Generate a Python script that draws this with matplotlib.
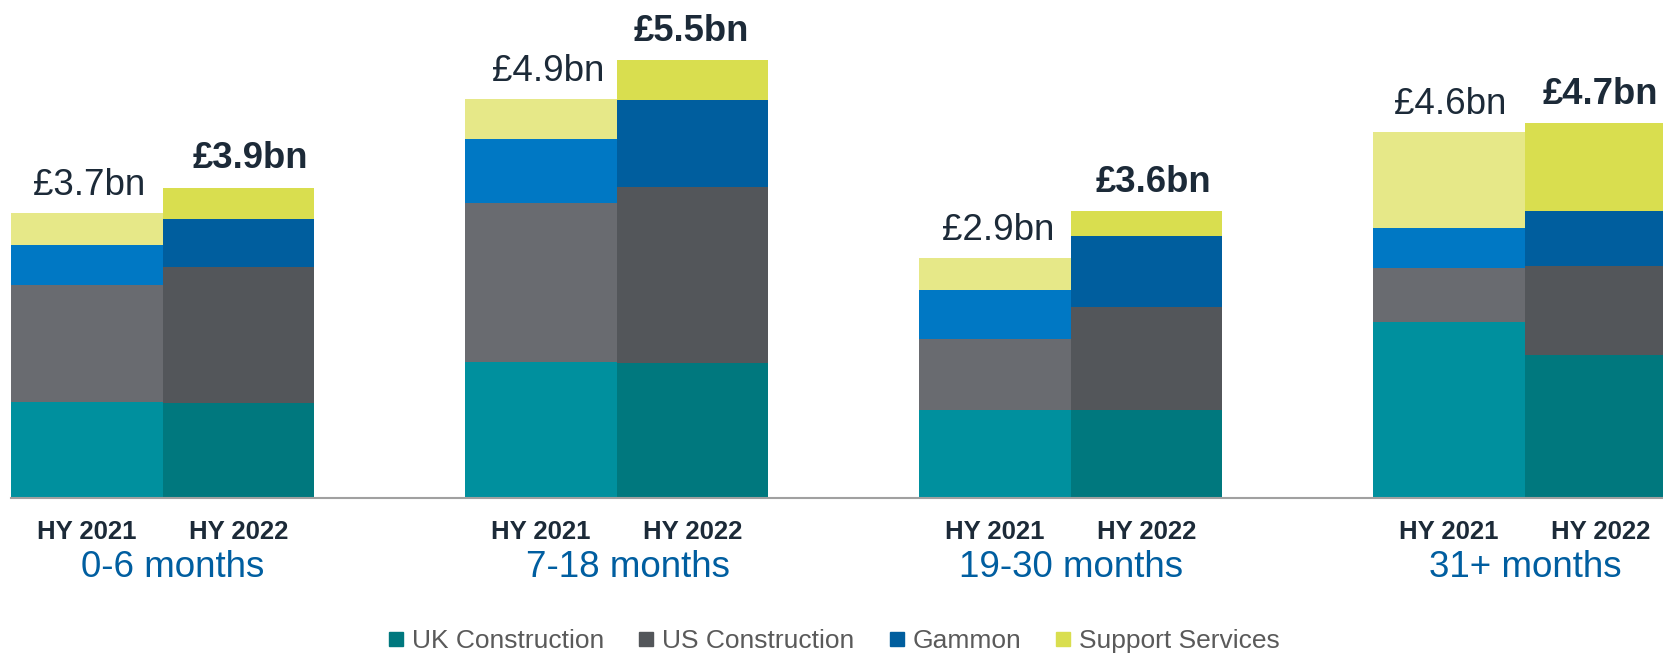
import numpy as np
import matplotlib
matplotlib.use('Agg')
import matplotlib.pyplot as plt
from matplotlib.lines import Line2D

plt.rcParams['font.family'] = ['Liberation Sans', 'DejaVu Sans']

# order book by time to delivery, £bn
groups = ['0-6 months', '7-18 months', '19-30 months', '31+ months']
periods = ['HY 2021', 'HY 2022']
segments = ['UK Construction', 'US Construction', 'Gammon', 'Support Services']

uk_2021 = [1.20, 1.71, 1.10, 2.21]
us_2021 = [1.48, 1.99, 0.90, 0.68]
gammon_2021 = [0.50, 0.81, 0.61, 0.50]
support_2021 = [0.40, 0.50, 0.40, 1.21]

uk_2022 = [1.19, 1.70, 1.10, 1.80]
us_2022 = [1.71, 2.21, 1.30, 1.11]
gammon_2022 = [0.60, 1.09, 0.89, 0.69]
support_2022 = [0.40, 0.50, 0.31, 1.11]

totals_2021 = ['£3.7bn', '£4.9bn', '£2.9bn', '£4.6bn']
totals_2022 = ['£3.9bn', '£5.5bn', '£3.6bn', '£4.7bn']

colors_2021 = ['#00909E', '#696B70', '#0078C4', '#E6E888']
colors_2022 = ['#00787E', '#53565A', '#005E9E', '#D9DE4F']

# small horizontal nudges of the labels (pixels), as placed in the original
px = 151.7
nudge_2021 = [2, 7, 3, 1]
nudge_2022 = [12, -1, 7, 0]
nudge_group = [10, 11, 0, 0]

fig = plt.figure(figsize=(16.63, 6.54), dpi=100)
ax = fig.add_axes([11 / 1663, 156 / 654, 1652 / 1663, 498 / 654])

x = np.arange(len(groups)) * 2.993
w = 1.0

series_2021 = [uk_2021, us_2021, gammon_2021, support_2021]
series_2022 = [uk_2022, us_2022, gammon_2022, support_2022]

bottom = np.zeros(len(groups))
for vals, c in zip(series_2021, colors_2021):
    ax.bar(x + 0.5, vals, w, bottom=bottom, color=c, linewidth=0)
    bottom += np.array(vals)
top_2021 = bottom.copy()

bottom = np.zeros(len(groups))
for vals, c in zip(series_2022, colors_2022):
    ax.bar(x + 1.5, vals, w, bottom=bottom, color=c, linewidth=0)
    bottom += np.array(vals)
top_2022 = bottom.copy()

ax.set_xlim(0, 1652 / px)
ax.set_ylim(0, 498 / 79.6)

dark = '#1C2A38'
for i in range(len(groups)):
    ax.text(x[i] + 0.5 + nudge_2021[i] / px, top_2021[i] + 0.23, totals_2021[i],
            ha='center', va='baseline', fontsize=26.5, color=dark)
    ax.text(x[i] + 1.5 + nudge_2022[i] / px, top_2022[i] + 0.24, totals_2022[i],
            ha='center', va='baseline', fontsize=26.3, fontweight='bold', color=dark)
    ax.text(x[i] + 0.5, -0.515, periods[0], ha='center', va='baseline',
            fontsize=18.5, fontweight='bold', color=dark)
    ax.text(x[i] + 1.5, -0.515, periods[1], ha='center', va='baseline',
            fontsize=18.5, fontweight='bold', color=dark)
    ax.text(x[i] + 1.0 + nudge_group[i] / px, -0.99, groups[i], ha='center',
            va='baseline', fontsize=26.5, color='#005EA0')

for s in ['top', 'right', 'left']:
    ax.spines[s].set_visible(False)
ax.spines['bottom'].set_color('#A0A0A0')
ax.spines['bottom'].set_linewidth(1.5)
ax.set_xticks([])
ax.set_yticks([])

handles = [Line2D([], [], marker='s', linestyle='none', markersize=9.5, color=c)
           for c in colors_2022]
fig.legend(handles, segments, loc='center', bbox_to_anchor=(0.5015, 0.02), ncol=4,
           frameon=False, fontsize=19, handletextpad=0.3, columnspacing=1.3,
           handlelength=0.6, labelcolor='#5A5A5A')

fig.savefig('out.png', dpi=100)
